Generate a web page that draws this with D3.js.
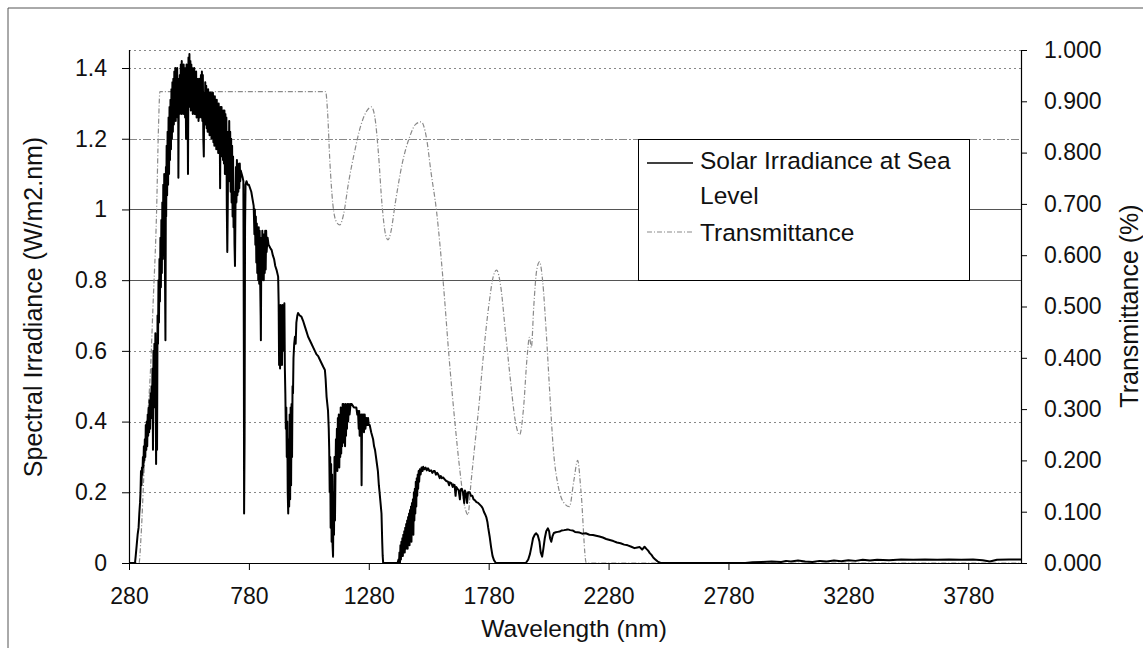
<!DOCTYPE html>
<html>
<head>
<meta charset="utf-8">
<script src="https://cdn.jsdelivr.net/npm/d3@7"></script>
<style>
  body { margin: 0; background: #fff; }
  svg { display: block; }
  text { font-family: "Liberation Sans", Arial, sans-serif; fill: #111; }
</style>
</head>
<body>
<svg id="chart" width="1143" height="648"></svg>
<script>
// Axis tick values
const wavelengthTicks = [280, 780, 1280, 1780, 2280, 2780, 3280, 3780];
const irradianceTicks = [0, 0.2, 0.4, 0.6, 0.8, 1, 1.2, 1.4];
const transmittanceTicks = [0, 0.1, 0.2, 0.3, 0.4, 0.5, 0.6, 0.7, 0.8, 0.9, 1.0];
const seriesNames = ["Solar Irradiance at Sea", "Level", "Transmittance"];
const axisTitles = ["Wavelength (nm)", "Spectral Irradiance (W/m2.nm)", "Transmittance (%)"];

// Solar spectral irradiance at sea level: [wavelength nm, W/m2.nm]
const irradiance = [
  [280,0],[300,0],[305,0],[308,0.02],[312,0.05],[316,0.08],[320,0.10],[323,0.14],[326,0.17],[328,0.20],
  [330,0.26],[332,0.22],[334,0.27],[336,0.25],[338,0.30],[340,0.27],[342,0.33],[344,0.29],[346,0.35],[348,0.30],
  [350,0.39],[352,0.32],[354,0.40],[356,0.33],[358,0.42],[360,0.36],[362,0.44],[364,0.37],[366,0.46],[368,0.38],
  [370,0.48],[372,0.41],[374,0.50],[376,0.42],[378,0.55],[380,0.32],[382,0.60],[384,0.44],[386,0.62],[388,0.47],
  [390,0.65],[392,0.40],[393,0.28],[395,0.55],[397,0.32],[399,0.70],[401,0.62],[403,0.80],[405,0.68],
  [407,0.86],[409,0.74],[411,0.92],[413,0.78],[415,0.97],[417,0.82],[419,1.02],[421,0.86],[423,1.07],[425,0.90],
  [427,1.10],[429,0.92],[432,0.63],[434,1.12],[435,0.98],[437,1.18],[439,1.04],[441,1.22],[443,1.07],[445,1.26],
  [447,1.10],[449,1.29],[451,1.14],[453,1.31],[455,1.17],[457,1.34],[459,1.20],[461,1.36],[463,1.22],[465,1.37],
  [467,1.24],[469,1.39],[471,1.26],[473,1.40],[475,1.25],[477,1.38],[479,1.27],[481,1.40],[483,1.26],[485,1.35],
  [486,1.09],[488,1.37],[490,1.27],[492,1.38],[494,1.28],[496,1.41],[498,1.27],[500,1.42],[502,1.28],[504,1.40],
  [506,1.27],[508,1.41],[510,1.29],[512,1.39],[514,1.26],[516,1.40],[518,1.20],[520,1.41],[522,1.28],[524,1.38],
  [526,1.10],[528,1.43],[530,1.29],[532,1.44],[534,1.30],[536,1.42],[538,1.28],[540,1.41],[542,1.29],[544,1.40],
  [546,1.27],[548,1.39],[550,1.28],[552,1.40],[554,1.27],[556,1.38],[558,1.27],[560,1.39],[562,1.26],[564,1.37],
  [566,1.27],[568,1.36],[570,1.25],[572,1.37],[574,1.26],[576,1.36],[578,1.27],[580,1.38],[582,1.26],[584,1.39],
  [586,1.25],[588,1.38],[590,1.20],[592,1.15],[594,1.33],[596,1.24],[598,1.36],[600,1.24],[602,1.35],[604,1.23],
  [606,1.34],[608,1.22],[610,1.34],[612,1.22],[614,1.33],[616,1.21],[618,1.33],[620,1.22],[622,1.33],[624,1.20],
  [626,1.32],[628,1.21],[630,1.33],[632,1.19],[634,1.32],[636,1.18],[638,1.32],[640,1.19],[642,1.31],[644,1.17],
  [646,1.31],[648,1.18],[650,1.30],[652,1.16],[654,1.30],[656,1.16],[658,1.29],[660,1.06],[662,1.29],[664,1.15],
  [666,1.29],[668,1.16],[670,1.28],[672,1.14],[674,1.28],[676,1.13],[678,1.28],[680,1.10],[682,1.27],[684,1.12],
  [686,1.26],[688,1.00],[690,0.88],[692,1.02],[694,1.22],[696,1.10],[698,1.25],[700,1.08],[702,1.22],[704,1.05],
  [706,1.20],[708,1.02],[710,1.18],[712,0.98],[714,1.15],[716,0.95],[718,1.05],[720,0.90],[722,0.84],[724,1.00],
  [726,1.12],[728,1.02],[730,1.14],[732,1.04],[734,1.13],[736,1.05],[738,1.12],[740,1.06],[742,1.13],[744,1.08],
  [746,1.11],[750,1.10],[754,1.09],[757,1.08],[759,0.60],[760,0.14],[762,0.35],[764,0.95],[766,1.07],[770,1.08],
  [775,1.07],[780,1.07],[785,1.06],[790,1.05],[795,1.03],[800,1.01],[803,0.93],[805,1.00],[807,0.90],[809,0.98],
  [811,0.85],[813,0.96],[815,0.82],[817,0.95],[819,0.80],[821,0.95],[823,0.79],[825,0.94],[827,0.80],[829,0.70],
  [830,0.63],[832,0.92],[834,0.80],[836,0.94],[838,0.81],[840,0.93],[842,0.80],[844,0.93],[846,0.82],[848,0.94],
  [850,0.83],[852,0.94],[854,0.88],[858,0.92],[862,0.90],[866,0.895],[870,0.89],[875,0.885],[880,0.87],[885,0.86],
  [890,0.84],[895,0.83],[902,0.81],[904,0.74],[906,0.56],[908,0.72],[910,0.55],[912,0.73],[914,0.57],[916,0.72],
  [918,0.56],[920,0.73],[922,0.60],[924,0.73],[926,0.62],[928,0.735],[930,0.55],[932,0.48],[934,0.38],[936,0.44],
  [938,0.30],[940,0.40],[942,0.20],[944,0.14],[946,0.35],[948,0.16],[950,0.42],[952,0.18],[954,0.44],[956,0.22],
  [958,0.45],[960,0.30],[962,0.50],[964,0.48],[966,0.58],[969,0.62],[972,0.64],[975,0.62],[978,0.68],[982,0.70],
  [985,0.707],[992,0.70],[999,0.697],[1006,0.685],[1013,0.67],[1020,0.655],[1027,0.64],[1034,0.63],[1041,0.62],
  [1048,0.61],[1055,0.60],[1062,0.59],[1069,0.585],[1076,0.575],[1083,0.565],[1090,0.555],[1097,0.546],[1100,0.52],
  [1104,0.47],[1107,0.45],[1110,0.43],[1113,0.38],[1115,0.32],[1117,0.20],[1119,0.30],[1121,0.10],[1123,0.28],
  [1125,0.06],[1127,0.25],[1129,0.05],[1131,0.018],[1133,0.20],[1135,0.08],[1137,0.30],[1139,0.12],[1141,0.25],
  [1143,0.35],[1145,0.27],[1147,0.38],[1149,0.26],[1151,0.41],[1153,0.28],[1155,0.42],[1157,0.27],[1159,0.41],
  [1161,0.30],[1163,0.44],[1165,0.31],[1167,0.43],[1169,0.33],[1171,0.45],[1173,0.35],[1175,0.45],[1177,0.34],
  [1179,0.44],[1181,0.33],[1183,0.45],[1185,0.36],[1187,0.44],[1189,0.38],[1191,0.45],[1194,0.40],[1197,0.45],
  [1200,0.42],[1204,0.45],[1208,0.45],[1213,0.445],[1218,0.44],[1223,0.44],[1228,0.44],[1232,0.42],[1235,0.43],
  [1238,0.38],[1240,0.43],[1242,0.36],[1244,0.42],[1246,0.37],[1248,0.42],[1250,0.22],[1252,0.42],[1254,0.38],
  [1257,0.42],[1260,0.37],[1263,0.42],[1266,0.38],[1270,0.41],[1274,0.39],[1277,0.41],[1280,0.39],[1284,0.39],
  [1290,0.37],[1294,0.36],[1298,0.35],[1302,0.33],[1306,0.32],[1310,0.30],[1314,0.28],[1318,0.26],[1322,0.22],
  [1325,0.20],[1329,0.17],[1333,0.14],[1336,0.06],[1338,0.02],[1340,0],
  [1400,0],[1404,0.01],[1406,0.0],[1408,0.03],[1410,0.0],[1412,0.05],[1414,0.01],[1416,0.06],[1418,0.02],
  [1420,0.07],[1422,0.02],[1424,0.08],[1426,0.03],[1428,0.09],[1430,0.03],[1432,0.10],[1434,0.04],[1436,0.11],
  [1438,0.05],[1440,0.12],[1442,0.04],[1444,0.13],[1446,0.06],[1448,0.14],[1450,0.05],[1452,0.15],[1454,0.07],
  [1456,0.16],[1458,0.06],[1460,0.17],[1462,0.09],[1464,0.18],[1466,0.08],[1468,0.20],[1470,0.12],[1472,0.21],
  [1474,0.14],[1476,0.23],[1478,0.16],[1480,0.24],[1482,0.19],[1484,0.25],[1486,0.21],[1488,0.26],[1490,0.23],
  [1493,0.265],[1496,0.25],[1500,0.27],[1504,0.26],[1507,0.272],[1512,0.265],[1517,0.27],[1522,0.262],[1527,0.268],
  [1533,0.26],[1540,0.262],[1545,0.255],[1550,0.26],[1555,0.26],[1560,0.25],[1565,0.255],[1570,0.25],[1576,0.24],
  [1580,0.246],[1585,0.24],[1590,0.242],[1597,0.236],[1603,0.232],[1610,0.23],[1615,0.22],[1618,0.228],[1625,0.225],
  [1630,0.215],[1633,0.222],[1638,0.22],[1642,0.19],[1645,0.215],[1650,0.21],[1655,0.205],[1660,0.18],[1663,0.208],
  [1668,0.21],[1673,0.20],[1678,0.17],[1681,0.205],[1686,0.195],[1690,0.17],[1694,0.20],[1701,0.20],[1706,0.19],
  [1712,0.19],[1717,0.18],[1722,0.178],[1729,0.172],[1736,0.17],[1743,0.165],[1750,0.16],[1755,0.155],[1760,0.145],
  [1765,0.138],[1770,0.13],[1775,0.115],[1778,0.10],[1784,0.075],[1790,0.045],[1796,0.02],[1802,0.008],[1810,0],
  [1935,0],[1945,0.01],[1952,0.025],[1958,0.045],[1965,0.07],[1972,0.08],[1978,0.084],[1985,0.078],[1992,0.06],
  [1997,0.03],[2003,0.018],[2008,0.04],[2014,0.07],[2020,0.09],[2027,0.098],[2032,0.09],[2036,0.07],[2041,0.06],
  [2046,0.075],[2052,0.085],[2060,0.087],[2068,0.088],[2076,0.089],[2085,0.092],[2095,0.093],[2103,0.094],
  [2110,0.095],[2120,0.093],[2130,0.092],[2140,0.088],[2150,0.087],[2159,0.086],[2170,0.083],[2185,0.084],
  [2200,0.080],[2215,0.079],[2228,0.077],[2242,0.075],[2256,0.072],[2270,0.068],[2285,0.065],[2300,0.062],
  [2315,0.058],[2330,0.056],[2345,0.052],[2360,0.050],[2375,0.046],[2388,0.042],[2400,0.044],[2410,0.045],
  [2420,0.038],[2430,0.046],[2438,0.040],[2445,0.035],[2452,0.028],[2459,0.023],[2467,0.015],[2475,0.010],
  [2485,0.004],[2497,0],
  [2850,0],[2880,0.002],[2920,0.003],[2960,0.004],[3000,0.003],[3020,0.006],[3040,0.004],[3070,0.007],[3100,0.004],
  [3130,0.003],[3160,0.006],[3190,0.004],[3220,0.007],[3250,0.005],[3280,0.008],[3310,0.006],[3340,0.009],
  [3370,0.007],[3400,0.009],[3450,0.008],[3500,0.010],[3550,0.009],[3600,0.010],[3650,0.009],[3700,0.010],
  [3750,0.009],[3800,0.010],[3840,0.008],[3870,0.004],[3900,0.009],[3950,0.010],[4000,0.010]
];

// Filter transmittance: [wavelength nm, fraction]
const transmittance = [
  [280,0],[322,0],[330,0.05],[345,0.20],[360,0.30],[370,0.38],[380,0.50],[395,0.685],[403,0.85],[409,0.919],
  [1100,0.919],[1108,0.88],[1118,0.78],[1130,0.70],[1145,0.665],[1159,0.659],[1175,0.68],[1195,0.74],[1220,0.80],
  [1245,0.85],[1270,0.88],[1291,0.889],[1305,0.87],[1320,0.80],[1335,0.70],[1350,0.64],[1360,0.63],[1372,0.645],
  [1390,0.70],[1420,0.78],[1450,0.83],[1475,0.855],[1499,0.86],[1520,0.83],[1540,0.76],[1562,0.688],[1590,0.55],
  [1615,0.40],[1640,0.27],[1660,0.18],[1680,0.11],[1694,0.094],[1705,0.15],[1720,0.22],[1740,0.31],[1757,0.40],
  [1780,0.50],[1800,0.56],[1813,0.571],[1830,0.54],[1850,0.45],[1870,0.36],[1890,0.28],[1909,0.25],[1925,0.30],
  [1940,0.40],[1950,0.44],[1958,0.42],[1968,0.50],[1980,0.57],[1992,0.587],[2005,0.55],[2020,0.45],[2035,0.33],
  [2050,0.22],[2070,0.15],[2090,0.12],[2117,0.11],[2135,0.16],[2151,0.20],[2165,0.14],[2187,0],[4000,0]
];

const svg = d3.select("#chart");
const plot = { left: 129, right: 1021, top: 50, bottom: 563 };

const x = d3.scaleLinear().domain([280, 4000]).range([plot.left, plot.right]);
const yLeft = d3.scaleLinear().domain([0, 1.451]).range([plot.bottom, plot.top]);
const yRight = d3.scaleLinear().domain([0, 1]).range([plot.bottom, plot.top]);

// Outer chart frame
svg.append("path")
  .attr("d", "M8,648 V8 H1143")
  .attr("fill", "none").attr("stroke", "#555").attr("stroke-width", 1);

// Horizontal gridlines
const grid = svg.append("g");
grid.selectAll("line")
  .data(irradianceTicks.filter(d => d > 0))
  .join("line")
  .attr("x1", plot.left).attr("x2", plot.right)
  .attr("y1", d => Math.round(yLeft(d)) + 0.5).attr("y2", d => Math.round(yLeft(d)) + 0.5)
  .attr("stroke", d => (d === 1 || d === 0.8) ? "#555" : "#888")
  .attr("stroke-dasharray", d => (d === 1 || d === 0.8) ? null : (d === 1.2 ? "8,2,2,2" : "2,3"))
  .attr("stroke-width", 1);
grid.append("line")
  .attr("x1", plot.left).attr("x2", plot.right)
  .attr("y1", plot.top + 0.5).attr("y2", plot.top + 0.5)
  .attr("stroke", "#888").attr("stroke-dasharray", "2,3");

// Series, clipped to the plot area
svg.append("clipPath").attr("id", "plotClip")
  .append("rect")
  .attr("x", plot.left).attr("y", plot.top - 2)
  .attr("width", plot.right - plot.left).attr("height", plot.bottom - plot.top + 2);

const series = svg.append("g").attr("clip-path", "url(#plotClip)");

const transLine = d3.line().x(d => x(d[0])).y(d => yRight(d[1])).curve(d3.curveMonotoneX);
series.append("path")
  .datum(transmittance)
  .attr("d", transLine)
  .attr("fill", "none")
  .attr("stroke", "#8a8a8a")
  .attr("stroke-width", 1.2)
  .attr("stroke-dasharray", "5,2,1,2");

const irrLine = d3.line().x(d => x(d[0])).y(d => yLeft(d[1]));
series.append("path")
  .datum(irradiance)
  .attr("d", irrLine)
  .attr("fill", "none")
  .attr("stroke", "#000")
  .attr("stroke-width", 2)
  .attr("stroke-linejoin", "round");

// Axes
const xAxis = d3.axisBottom(x).tickValues(wavelengthTicks).tickSize(7).tickPadding(18).tickFormat(d3.format("d"));
const gx = svg.append("g").attr("transform", `translate(0,${plot.bottom})`).call(xAxis);

const yAxisL = d3.axisLeft(yLeft).tickValues(irradianceTicks).tickSize(7).tickPadding(15)
  .tickFormat(d => d3.format("~g")(d));
const gyl = svg.append("g").attr("transform", `translate(${plot.left},0)`).call(yAxisL);

const yAxisR = d3.axisRight(yRight).tickValues(transmittanceTicks).tickSize(6).tickPadding(17)
  .tickFormat(d3.format(".3f"));
const gyr = svg.append("g").attr("transform", `translate(${plot.right},0)`).call(yAxisR);

[gx, gyl, gyr].forEach(g => {
  g.select(".domain").attr("stroke", "#000").attr("stroke-width", 1.2);
  g.selectAll(".tick line").attr("stroke", "#000");
  g.selectAll(".tick text")
    .attr("font-family", "'Liberation Sans', Arial, sans-serif")
    .attr("font-size", 23).attr("fill", "#111");
});
gx.select(".domain").attr("d", `M${plot.left},0.5H${plot.right}`);
gyl.select(".domain").attr("d", `M0.5,${plot.bottom}V${plot.top}`);
gyr.select(".domain").attr("d", `M0.5,${plot.bottom}V${plot.top}`);

// Axis titles
svg.append("text")
  .attr("x", 574).attr("y", 637)
  .attr("text-anchor", "middle").attr("font-size", 24.5)
  .text(axisTitles[0]);

svg.append("text")
  .attr("transform", "translate(42,307) rotate(-90)")
  .attr("text-anchor", "middle").attr("font-size", 25)
  .text(axisTitles[1]);

svg.append("text")
  .attr("transform", "translate(1138,306) rotate(-90)")
  .attr("text-anchor", "middle").attr("font-size", 25)
  .text(axisTitles[2]);

// Legend
const legend = svg.append("g");
legend.append("rect")
  .attr("x", 638.5).attr("y", 139.5).attr("width", 331).attr("height", 141)
  .attr("fill", "#fff").attr("stroke", "#000").attr("stroke-width", 1);
legend.append("line")
  .attr("x1", 647).attr("x2", 693).attr("y1", 163).attr("y2", 163)
  .attr("stroke", "#000").attr("stroke-width", 1.5);
legend.append("line")
  .attr("x1", 647).attr("x2", 693).attr("y1", 232).attr("y2", 232)
  .attr("stroke", "#8a8a8a").attr("stroke-width", 1.2).attr("stroke-dasharray", "5,2,1,2");
legend.append("text").attr("x", 700).attr("y", 169).attr("font-size", 24.5).text(seriesNames[0]);
legend.append("text").attr("x", 700).attr("y", 204).attr("font-size", 24.5).text(seriesNames[1]);
legend.append("text").attr("x", 700).attr("y", 241).attr("font-size", 24.5).text(seriesNames[2]);
</script>
</body>
</html>
